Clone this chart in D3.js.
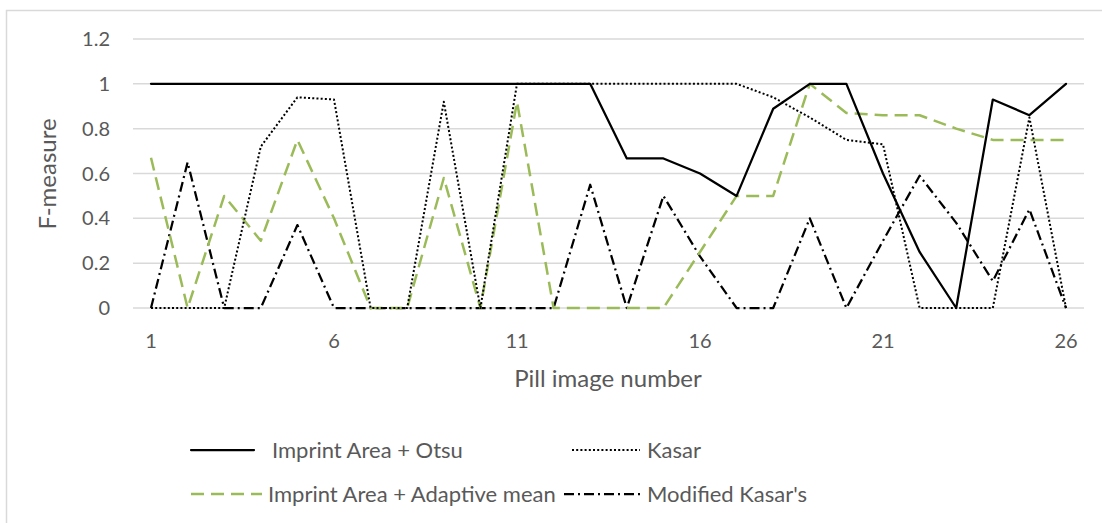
<html>
<head>
<meta charset="UTF-8">
<script src="https://d3js.org/d3.v7.min.js"></script>
<style>
  body { margin: 0; background: #fff; }
  text { font-family: Lato, "Open Sans", sans-serif; fill: #595959; }
</style>
</head>
<body>
<svg id="chart" width="1102" height="523"></svg>
<script>
// data
const imageNumbers = d3.range(1, 27);
const otsu     = [1,1,1,1,1,1,1,1,1,1,1,1,1,0.667,0.667,0.6,0.5,0.889,1,1,0.6,0.25,0,0.93,0.86,1];
const kasar    = [0,0,0,0.72,0.94,0.93,0,0,0.92,0,1,1,1,1,1,1,1,0.94,0.85,0.75,0.73,0,0,0,0.85,0];
const adaptive = [0.67,0,0.5,0.3,0.75,0.4,0,0,0.58,0,0.92,0,0,0,0,0.25,0.5,0.5,1,0.87,0.86,0.86,0.8,0.75,0.75,0.75];
const modKasar = [0,0.65,0,0,0.37,0,0,0,0,0,0,0,0.55,0,0.5,0.23,0,0,0.4,0,0.3,0.59,0.38,0.12,0.44,0];
const yTicks = [0, 0.2, 0.4, 0.6, 0.8, 1, 1.2];
const xTicks = [1, 6, 11, 16, 21, 26];

const svg = d3.select('#chart');

// outer chart border (only top/left visible)
svg.append('rect')
   .attr('x', 6.5).attr('y', 10.5)
   .attr('width', 1200).attr('height', 600)
   .attr('fill', 'none').attr('stroke', '#d9d9d9').attr('stroke-width', 1.5);

const x = d3.scaleLinear().domain([1, 26]).range([151, 1066]);
const y = d3.scaleLinear().domain([0, 1.2]).range([308, 39]);

// gridlines + y labels
yTicks.forEach(t => {
    svg.append('line')
       .attr('x1', 133).attr('x2', 1084)
       .attr('y1', y(t)).attr('y2', y(t))
       .attr('stroke', '#d9d9d9').attr('stroke-width', 1.5);
    svg.append('text')
       .attr('x', 110).attr('y', y(t)).attr('dy', '0.35em')
       .attr('text-anchor', 'end').attr('font-size', 20)
       .text(t);
});

xTicks.forEach(t => {
    svg.append('text')
       .attr('x', x(t)).attr('y', 341).attr('dy', '0.35em')
       .attr('text-anchor', 'middle').attr('font-size', 20)
       .text(t);
});

// axis titles
svg.append('text')
   .attr('x', 608).attr('y', 379).attr('dy', '0.35em')
   .attr('text-anchor', 'middle').attr('font-size', 24)
   .text('Pill image number');
svg.append('text')
   .attr('transform', 'translate(48,174) rotate(-90)')
   .attr('dy', '0.35em')
   .attr('text-anchor', 'middle').attr('font-size', 24)
   .text('F-measure');

const series = [
    {name: 'Imprint Area + Otsu', values: otsu, color: '#000', width: 2.25, dash: null, cap: 'round'},
    {name: 'Kasar', values: kasar, color: '#000', width: 2, dash: '2,2.2', cap: 'butt'},
    {name: 'Imprint Area + Adaptive mean', values: adaptive, color: '#9bbb59', width: 2.5, dash: '13,7', cap: 'butt'},
    {name: "Modified Kasar's", values: modKasar, color: '#000', width: 2.25, dash: '10,4,2,4', cap: 'butt'}
];

const line = d3.line()
    .x((d, i) => x(imageNumbers[i]))
    .y(d => y(d));

// draw in reverse so the solid line sits on top
[3, 2, 1, 0].forEach(k => {
    const s = series[k];
    svg.append('path')
       .attr('d', line(s.values))
       .attr('fill', 'none')
       .attr('stroke', s.color)
       .attr('stroke-width', s.width)
       .attr('stroke-dasharray', s.dash)
       .attr('stroke-linecap', s.cap)
       .attr('stroke-linejoin', 'round');
});

// legend
const legendPos = [
    {sx: 191, ex: 254, tx: 272, y: 450},
    {sx: 572, ex: 640, tx: 647, y: 450},
    {sx: 191, ex: 262, tx: 268, y: 494},
    {sx: 564, ex: 640, tx: 647, y: 494}
];
series.forEach((s, i) => {
    const p = legendPos[i];
    svg.append('line')
       .attr('x1', p.sx).attr('x2', p.ex)
       .attr('y1', p.y).attr('y2', p.y)
       .attr('stroke', s.color)
       .attr('stroke-width', s.width)
       .attr('stroke-dasharray', s.dash)
       .attr('stroke-linecap', s.cap);
    svg.append('text')
       .attr('x', p.tx).attr('y', p.y).attr('dy', '0.35em')
       .attr('font-size', 22)
       .text(s.name);
});
</script>
</body>
</html>
